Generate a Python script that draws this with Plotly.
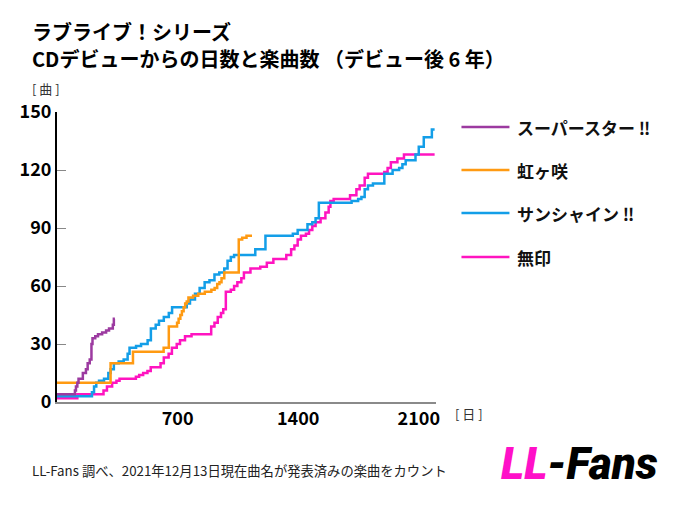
import plotly.graph_objects as go

# days since CD debut / number of songs (step data)
superstar_days = [0, 98, 104, 110, 118, 125, 138, 150, 168, 178, 190, 200, 206, 222, 238, 262, 285, 302, 318, 324, 330, 336]
superstar_songs = [4, 4, 6, 8, 10, 12, 12, 15, 17, 20, 22, 30, 33, 34, 35, 36, 37, 38, 38, 40, 43, 43]

nijigasaki_days = [0, 311, 441, 619, 649, 697, 706, 716, 725, 735, 744, 753, 763, 790, 820, 858, 896, 915, 930, 943, 955, 971, 1055, 1075, 1100, 1132]
nijigasaki_songs = [10, 20, 26, 28, 39, 41, 43, 45, 47, 49, 51, 52, 54, 55, 56, 57, 58, 59, 61, 62, 64, 67, 84, 85, 86, 86]

sunshine_days = [0, 203, 215, 228, 244, 273, 298, 311, 330, 358, 387, 410, 421, 459, 488, 526, 545, 573, 592, 620,
                 649, 668, 744, 753, 772, 801, 828, 857, 885, 914, 942, 971, 990, 1009, 1028, 1151, 1210, 1369, 1397, 1454,
                 1482, 1501, 1520, 1710, 1748, 1767, 1786, 1805, 1834, 1900, 1948, 1986, 2005, 2024, 2081, 2100, 2129, 2176, 2192]
sunshine_songs = [3, 5, 8, 10, 11, 12, 15, 17, 20, 21, 22, 25, 28, 29, 30, 32, 38, 40, 42, 44,
                  46, 49, 49, 51, 53, 56, 59, 62, 63, 66, 67, 69, 73, 75, 76, 79, 86, 87, 89, 92,
                  93, 95, 103, 104, 105, 106, 110, 112, 113, 118, 120, 121, 123, 125, 128, 132, 137, 141, 141]

muse_days = [0, 118, 270, 290, 320, 345, 363, 458, 477, 500, 525, 544, 601, 620, 648, 667, 695, 714, 743, 781,
             895, 914, 933, 952, 965, 980, 1009, 1028, 1047, 1070, 1085, 1123, 1180, 1218, 1256, 1331, 1359, 1378, 1397, 1416,
             1445, 1463, 1482, 1501, 1530, 1558, 1577, 1587, 1606, 1701, 1738, 1757, 1786, 1805, 1900, 1919, 1938, 1976, 2014, 2192]
muse_songs = [2, 4, 6, 8, 10, 11, 12, 13, 14, 15, 16, 18, 20, 23, 25, 28, 30, 32, 34, 35,
              39, 41, 44, 46, 48, 57, 58, 60, 62, 64, 67, 69, 70, 72, 74, 76, 79, 81, 84, 86,
              87, 89, 91, 93, 95, 98, 101, 104, 105, 107, 110, 112, 116, 118, 119, 121, 124, 126, 128, 128]

series_names = ["スーパースター ‼", "虹ヶ咲", "サンシャイン ‼", "無印"]
series_colors = ["#9c3aa0", "#ff9a12", "#139ee8", "#ff14c0"]
series_data = [(superstar_days, superstar_songs), (nijigasaki_days, nijigasaki_songs),
               (sunshine_days, sunshine_songs), (muse_days, muse_songs)]

x_ticks = [700, 1400, 2100]
y_ticks = [0, 30, 60, 90, 120, 150]

JP = "Noto Sans CJK JP"

# the page body adds an 8px margin, so the figure is 8px smaller
OFF = 8
W, H = 680 - OFF, 522 - OFF
# plot area in (reference) pixels
L, R, T, B = 49, 436, 112, 402
def px(x):
    return (x - L) / (R - L)
def py(y):
    return (B - y) / (B - T)

fig = go.Figure()
# draw in reverse so purple ends up on top
for name, color, (d, s) in list(zip(series_names, series_colors, series_data))[::-1]:
    fig.add_trace(go.Scatter(x=d, y=s, mode="lines", name=name, line=dict(color=color, width=2.5, shape="hv"),
                             showlegend=False))

annotations = []
shapes = []
legend_y = [127, 170, 213, 257]
for name, color, ly in zip(series_names, series_colors, legend_y):
    shapes.append(dict(type="line", xref="paper", yref="paper", x0=px(462), x1=px(511), y0=py(ly), y1=py(ly),
                       line=dict(color=color, width=2.5)))
    annotations.append(dict(text="<b>%s</b>" % name, xref="paper", yref="paper", x=px(517), y=py(ly),
                            xanchor="left", yanchor="middle", showarrow=False,
                            font=dict(family=JP, size=17, color="#111")))

def note(text, x, y, size, color="#000", anchor="left", family=JP, **kw):
    annotations.append(dict(text=text, xref="paper", yref="paper", x=px(x), y=py(y), xanchor=anchor,
                            yanchor="middle", showarrow=False, font=dict(family=family, size=size, color=color, **kw)))

# title
note("<b>ラブライブ！シリーズ</b>", 21, 32, 20)
note("<b>CDデビューからの日数と楽曲数 （デビュー後 6 年）</b>", 21, 58, 20)
# axis units
note("[ 曲 ]", 21, 88, 13, "#333")
note("[ 日 ]", 453, 413, 13, "#333")
# footer + logo
note("LL-Fans 調べ、2021年12月13日現在曲名が発表済みの楽曲をカウント", 21, 470, 13.3, "#222")
note("<span style='color:#ff10c8'>LL</span>-Fans", 665, 464, 44, "#000", anchor="right",
     family="Roboto", weight=900, style="italic")

fig.update_layout(
    width=W, height=H,
    margin=dict(l=L - OFF, r=680 - R, t=T - OFF, b=522 - B),
    paper_bgcolor="white", plot_bgcolor="white",
    annotations=annotations,
    shapes=shapes,
)
fig.update_xaxes(range=[0, 2200], tickvals=x_ticks, showgrid=False, zeroline=False,
                 showline=True, linecolor="#8a8a8a", linewidth=1.5, ticks="",
                 tickfont=dict(family=JP, size=18, color="#000", weight="bold"))
fig.update_yaxes(range=[0, 150], tickvals=y_ticks, showgrid=False, zeroline=False,
                 showline=True, linecolor="#000", linewidth=2, ticks="inside", ticklen=9, tickcolor="#888",
                 tickwidth=1, tickfont=dict(family=JP, size=18, color="#000", weight="bold"))

fig.write_html("out.html")
